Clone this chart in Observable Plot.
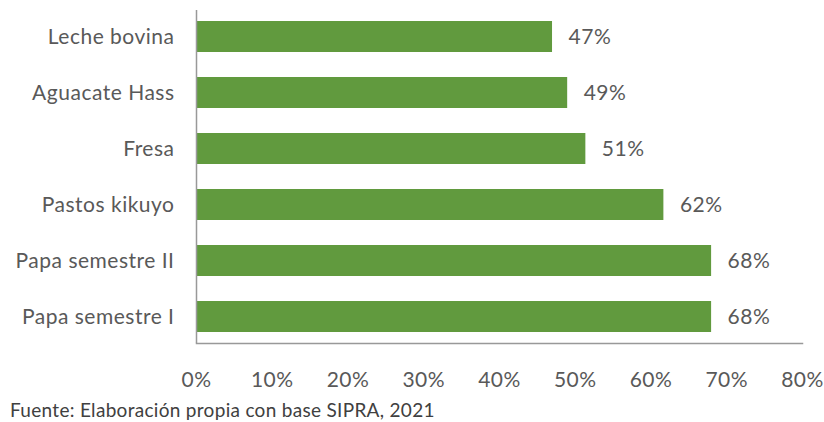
<!DOCTYPE html>
<html>
<head>
<meta charset="utf-8">
<script src="https://cdn.jsdelivr.net/npm/d3@7"></script>
<script src="https://cdn.jsdelivr.net/npm/@observablehq/plot@0.6"></script>
<style>
  body { margin: 0; background: #fff; }
  #chart { width: 824px; }
  .caption { font-family: Lato, "Open Sans", sans-serif; font-size: 19px; letter-spacing: 0.3px; color: #404040; margin: 1px 0 0 10px; line-height: 22px; white-space: nowrap; }
  svg text { letter-spacing: 0.5px; }
</style>
</head>
<body>
<div id="chart"></div>
<script>
const categories = ["Leche bovina", "Aguacate Hass", "Fresa", "Pastos kikuyo", "Papa semestre II", "Papa semestre I"];
const values = [0.47, 0.49, 0.514, 0.617, 0.68, 0.68];
const xTicks = [0, 0.1, 0.2, 0.3, 0.4, 0.5, 0.6, 0.7, 0.8];
const caption = "Fuente: Elaboración propia con base SIPRA, 2021";

const data = categories.map((c, i) => ({category: c, value: values[i]}));
const green = "#619A3E";
const textColor = "#595959";
const pct = d => Math.round(d * 100) + "%";

const plot = Plot.plot({
  width: 824,
  height: 398,
  marginLeft: 196,
  marginRight: 22,
  marginTop: 10,
  marginBottom: 55,
  style: { fontFamily: "Lato, 'Open Sans', sans-serif", fontSize: "21px", color: textColor, background: "#fff" },
  x: { domain: [0, 0.8], ticks: xTicks, tickFormat: pct },
  y: { domain: categories, paddingInner: 0.45, paddingOuter: 0.18, align: 0.5 },
  marks: [
    Plot.barX(data, { x: "value", y: "category", fill: green }),
    Plot.text(data, { x: "value", y: "category", text: d => pct(d.value), textAnchor: "start", dx: 16, fill: textColor, fontSize: 21 }),
    Plot.axisX({ ticks: xTicks, tickFormat: pct, tickSize: 0, tickPadding: 29, fontSize: 21, fill: textColor, label: null }),
    Plot.axisY({ tickSize: 0, tickPadding: 22, fontSize: 21, fill: textColor, label: null }),
    Plot.ruleX([0], { stroke: "#999", strokeWidth: 1.5 }),
    Plot.frame({ anchor: "bottom", stroke: "#999", strokeWidth: 1.5 })
  ]
});
document.getElementById("chart").appendChild(plot);
const cap = document.createElement("div");
cap.className = "caption";
cap.textContent = caption;
document.getElementById("chart").appendChild(cap);
</script>
</body>
</html>
